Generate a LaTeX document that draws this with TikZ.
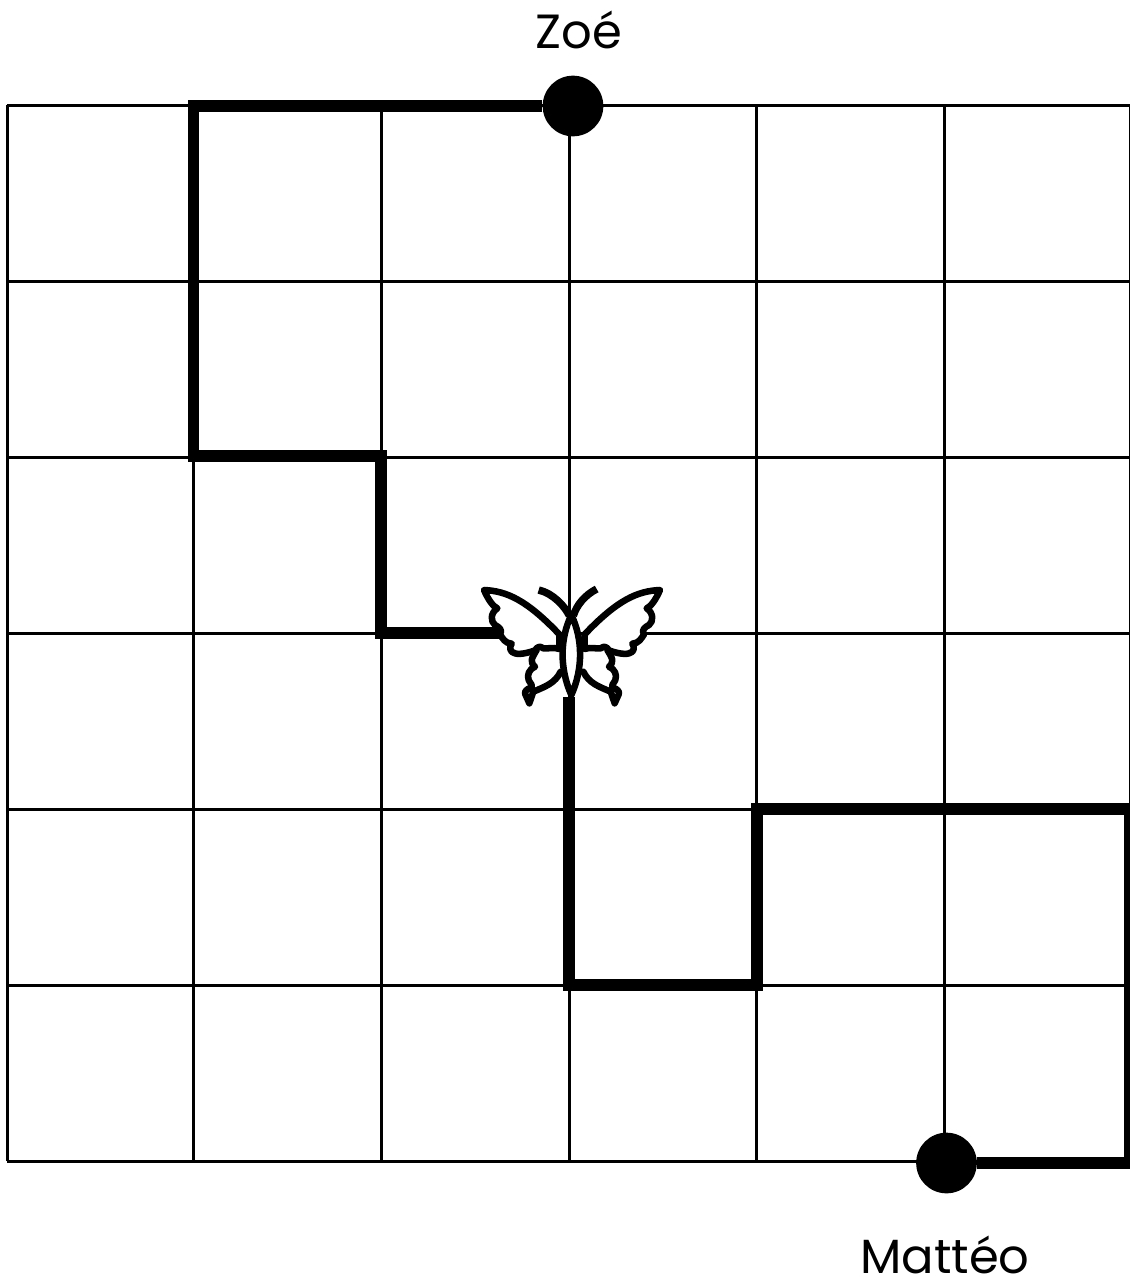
\documentclass[tikz,border=0pt]{standalone}
\usepackage{fontspec}
\setmainfont{Poppins}
\tikzset{
  gridline/.style={line width=2.25pt,black},
  route/.style={line width=8.8pt,black,line join=miter},
  walker/.style={circle,fill=black,minimum size=45.5pt,inner sep=0pt},
  who/.style={font=\fontsize{36}{36}\selectfont,anchor=base,inner sep=0pt},
  wing/.style={line width=4.9pt,black,line join=round,line cap=round,fill=white},
  antenna/.style={line width=5.6pt,black,line cap=butt}
}
\newcommand{\halfbutterfly}{%
  \fill[white] (195,226) -- (195,275) -- (176,315) -- (178,385) -- (272,290) -- (268,226) -- cycle;
  \draw[wing,fill=none] (200,225) .. controls (185,250) and (178,260) .. (195,275)
    .. controls (178,282) and (170,300) .. (176,315)
    .. controls (180,325) and (190,330) .. (183,338)
    .. controls (170,342) and (162,350) .. (166,358)
    -- (178,385) -- (190,350)
    .. controls (225,335) and (255,325) .. (272,290);
  \draw[wing] (42,45) .. controls (110,48) and (170,75) .. (268,178)
    -- (268,222) .. controls (250,215) and (235,222) .. (220,220)
    .. controls (210,212) and (202,215) .. (195,226)
    .. controls (180,232) and (150,240) .. (135,235)
    .. controls (118,232) and (118,215) .. (125,206)
    .. controls (105,205) and (98,190) .. (90,178)
    .. controls (100,165) and (85,155) .. (75,150)
    .. controls (62,140) and (60,115) .. (82,100)
    .. controls (70,95) and (55,75) .. (42,45) -- cycle;
}
\begin{document}
\begin{tikzpicture}[x=0.75pt,y=-0.75pt]
\useasboundingbox (0,0) rectangle (1130,1282);
\fill[white] (0,0) rectangle (1130,1282);
% grid
\foreach \gx in {7,193,381,569,756,944,1130} \draw[gridline] (\gx,105) -- (\gx,1161);
\foreach \gy in {105,281,457,633,809,985,1161} \draw[gridline] (7,\gy) -- (1130,\gy);
% named points
\node[walker] (zoe) at (573,106) {};
\node[walker] (matteo) at (946.5,1163) {};
\coordinate (a1) at (193.5,106);
\coordinate (a2) at (193.5,456);
\coordinate (a3) at (381,456);
\coordinate (a4) at (381,633);
\coordinate (a5) at (500,633);
\coordinate (b1) at (569,697);
\coordinate (b2) at (569,985);
\coordinate (b3) at (757,985);
\coordinate (b4) at (757,809);
\coordinate (b5) at (1130,809);
\coordinate (b6) at (1130,1163);
\draw[route] (zoe) -- (a1) -- (a2) -- (a3) -- (a4) -- (a5);
\draw[route] (b1) -- (b2) -- (b3) -- (b4) -- (b5) -- (b6) -- (matteo);
% butterfly
\begin{scope}[shift={(470,575)},x=0.25pt,y=-0.25pt]
  \halfbutterfly
  \begin{scope}[xscale=-1,shift={(-612,0)}]
    \halfbutterfly
  \end{scope}
  \draw[antenna] (206,45) .. controls (250,55) and (285,95) .. (298,122);
  \draw[antenna] (380,42) .. controls (345,60) and (320,90) .. (310,122);
  \draw[wing] (304,120) .. controls (270,190) and (268,280) .. (304,360)
     .. controls (340,280) and (338,190) .. (304,120) -- cycle;
\end{scope}
\node[who] (zoelabel) at (579,48) {Zoé};
\node[who] (matteolabel) at (945,1273) {Mattéo};
\end{tikzpicture}
\end{document}
